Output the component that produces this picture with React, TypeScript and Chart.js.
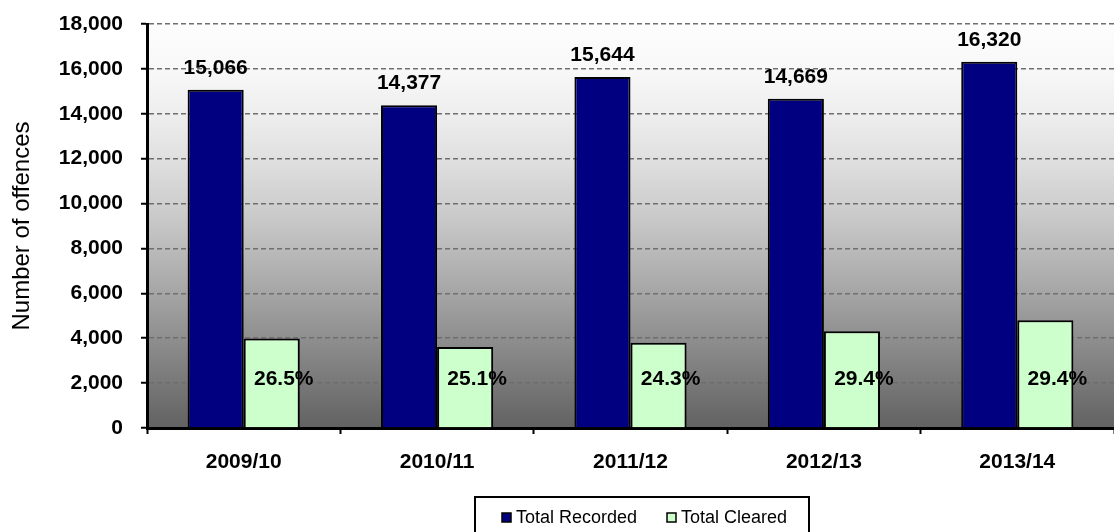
import React, { useEffect, useRef } from "react";
import { Chart, registerables } from "chart.js";

Chart.register(...registerables);

const categories = ["2009/10", "2010/11", "2011/12", "2012/13", "2013/14"];
const totalRecorded = [15066, 14377, 15644, 14669, 16320];
const totalCleared = [3992, 3609, 3801, 4313, 4798];
const clearedPct = ["26.5%", "25.1%", "24.3%", "29.4%", "29.4%"];
const yTicks = [0, 2000, 4000, 6000, 8000, 10000, 12000, 14000, 16000, 18000];

const FONT = "'Liberation Sans', Arial, sans-serif";

const bgPlugin = {
  id: "bgGradient",
  beforeDraw(chart: any) {
    const { ctx, chartArea } = chart;
    if (!chartArea) return;
    const { left, right, top, bottom } = chartArea;
    const g = ctx.createLinearGradient(0, top, 0, bottom);
    const stops = ["#fdfdfd", "#f8f8f8", "#eeeeee", "#e0e0e0", "#cfcfcf", "#bbbbbb", "#a5a5a5", "#8f8f8f", "#787878", "#626262"];
    stops.forEach((c, i) => g.addColorStop(i / (stops.length - 1), c));
    ctx.save();
    ctx.fillStyle = g;
    ctx.fillRect(left, top, right - left, bottom - top);
    ctx.restore();
  },
};

const labelPlugin = {
  id: "valueLabels",
  afterDatasetsDraw(chart: any) {
    const { ctx } = chart;
    ctx.save();
    ctx.fillStyle = "#000";
    ctx.font = `bold 21px ${FONT}`;
    ctx.textAlign = "center";
    ctx.textBaseline = "middle";
    const m0 = chart.getDatasetMeta(0);
    m0.data.forEach((bar: any, i: number) => {
      ctx.fillText(totalRecorded[i].toLocaleString("en-US"), bar.x, bar.y - 22);
    });
    const m1 = chart.getDatasetMeta(1);
    m1.data.forEach((bar: any, i: number) => {
      ctx.fillText(clearedPct[i], bar.x + 12, bar.base - 48);
    });
    ctx.restore();
  },
};

const legendPlugin = {
  id: "boxLegend",
  afterDraw(chart: any) {
    const { ctx } = chart;
    ctx.save();
    ctx.strokeStyle = "#000";
    ctx.lineWidth = 2;
    ctx.strokeRect(475, 497, 334, 60);
    ctx.font = `18px ${FONT}`;
    ctx.textBaseline = "middle";
    ctx.textAlign = "left";
    const xs = [502, 667];
    chart.data.datasets.forEach((ds: any, i: number) => {
      const x = xs[i];
      ctx.fillStyle = ds.backgroundColor;
      ctx.fillRect(x, 513, 9, 9);
      ctx.lineWidth = 1.5;
      ctx.strokeStyle = "#000";
      ctx.strokeRect(x, 513, 9, 9);
      ctx.fillStyle = "#000";
      ctx.fillText(ds.label, x + 14, 518);
    });
    ctx.restore();
  },
};

export default function App() {
  const ref = useRef<HTMLCanvasElement>(null);
  useEffect(() => {
    if (!ref.current) return;
    const chart = new Chart(ref.current, {
      type: "bar",
      data: {
        labels: categories,
        datasets: [
          {
            label: "Total Recorded",
            data: totalRecorded,
            backgroundColor: "#000080",
            borderColor: "#000",
            borderWidth: 2,
            categoryPercentage: 0.58,
            barPercentage: 1,
          },
          {
            label: "Total Cleared",
            data: totalCleared,
            backgroundColor: "#ccffcc",
            borderColor: "#000",
            borderWidth: 2,
            categoryPercentage: 0.58,
            barPercentage: 1,
          },
        ],
      },
      options: {
        animation: false,
        responsive: true,
        maintainAspectRatio: false,
        layout: { padding: { top: 24, right: 0, bottom: 0, left: 0 } },
        plugins: {
          legend: { display: false },
          tooltip: { enabled: false },
          title: { display: false },
        },
        scales: {
          x: {
            afterFit(scale: any) {
              scale.height = 104;
              scale.paddingLeft = 0;
              scale.paddingRight = 0;
            },
            grid: {
              display: true,
              drawOnChartArea: false,
              drawTicks: true,
              tickLength: 6,
              tickColor: "#000",
              tickWidth: 2,
              offset: true,
            },
            border: { display: true, color: "#000", width: 3 },
            ticks: {
              color: "#000",
              font: { family: FONT, size: 21, weight: "bold" },
              padding: 16,
              maxRotation: 0,
            },
          },
          y: {
            min: 0,
            max: 18000,
            afterFit(scale: any) {
              scale.width = 147;
              scale.paddingTop = 0;
              scale.paddingBottom = 0;
            },
            afterBuildTicks(scale: any) {
              scale.ticks = yTicks.map((v) => ({ value: v }));
            },
            grid: {
              color: "#6e6e6e",
              lineWidth: 1.5,
              drawTicks: true,
              tickLength: 6,
              tickColor: "#000",
              tickWidth: 2,
              tickBorderDash: [],
            },
            border: { display: true, color: "#000", width: 3, dash: [5, 3] },
            ticks: {
              color: "#000",
              font: { family: FONT, size: 21, weight: "bold" },
              padding: 18,
              callback: (v: any) => Number(v).toLocaleString("en-US"),
            },
            title: {
              display: true,
              text: "Number of offences",
              color: "#000",
              font: { family: FONT, size: 24, weight: "normal" },
              padding: { top: 8, bottom: 0 },
            },
          },
        },
      },
      plugins: [bgPlugin, labelPlugin, legendPlugin],
    });
    return () => chart.destroy();
  }, []);
  return (
    <div style={{ position: "absolute", left: 0, top: 0, width: 1114, height: 532, background: "#fff" }}>
      <canvas ref={ref} />
    </div>
  );
}
